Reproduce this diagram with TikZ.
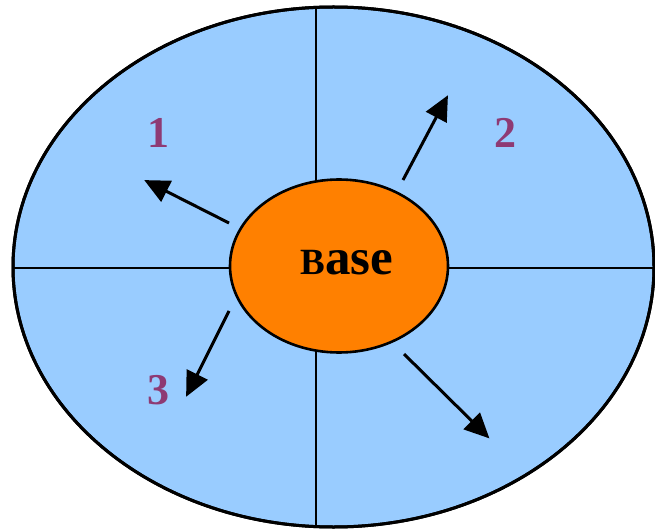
\documentclass[tikz,border=0pt]{standalone}
\usepackage{fontspec}
\setmainfont{Liberation Serif}
\usepackage{tikz}
\usetikzlibrary{positioning, arrows.meta, shapes.geometric}
\definecolor{skyfill}{HTML}{99CCFF}
\definecolor{basefill}{HTML}{FF8000}
\definecolor{numpurple}{HTML}{8E3A74}

\begin{document}
\begin{tikzpicture}[
    x=1pt, y=-1pt,
    region/.style={ellipse, draw=black, line width=3pt, inner sep=0pt},
    hub/.style={ellipse, draw=black, line width=2.6pt, fill=basefill, inner sep=0pt},
    arrow/.style={-{Triangle[length=25pt, width=23pt]}, line width=3pt, shorten >=-2pt},
    num/.style={font=\fontsize{44}{44}\selectfont\bfseries, text=numpurple},
]
\useasboundingbox (0,0) rectangle (655,529);

% outer field
\node[region, fill=skyfill, minimum width=641pt, minimum height=520pt] (field) at (333.5,267) {};

% quadrant lines
\begin{scope}
\path[clip] (333.5,267) ellipse [x radius=320.5pt, y radius=260pt];
\coordinate (vtop) at (316,0);
\coordinate (vbot) at (316,529);
\coordinate (hleft) at (0,268);
\coordinate (hright) at (655,268);
\draw[line width=2.8pt] (vtop) -- (vbot);
\draw[line width=2.8pt] (hleft) -- (hright);
\end{scope}
\node[region, minimum width=641pt, minimum height=520pt] at (field.center) {};

% base
\node[hub, minimum width=218pt, minimum height=173pt] (base) at (339,266) {};
\node[anchor=base, font=\bfseries] (basetext) at (347,274) {{\fontsize{37}{37}\selectfont B}{\fontsize{51}{51}\selectfont ase}};

% arrow ends
\coordinate (t1) at (229,223);
\coordinate (h1) at (146,181);
\coordinate (t2) at (403,180);
\coordinate (h2) at (447,97);
\coordinate (t3) at (229,311);
\coordinate (h3) at (187,395);
\coordinate (t4) at (404,354);
\coordinate (h4) at (488,437);

% arrows
\draw[arrow] (t1) -- (h1);
\draw[arrow] (t2) -- (h2);
\draw[arrow] (t3) -- (h3);
\draw[arrow] (t4) -- (h4);

% numbers
\node[num] (n1) at (158,133) {1};
\node[num] (n2) at (505,133) {2};
\node[num] (n3) at (158,390) {3};

\end{tikzpicture}
\end{document}
